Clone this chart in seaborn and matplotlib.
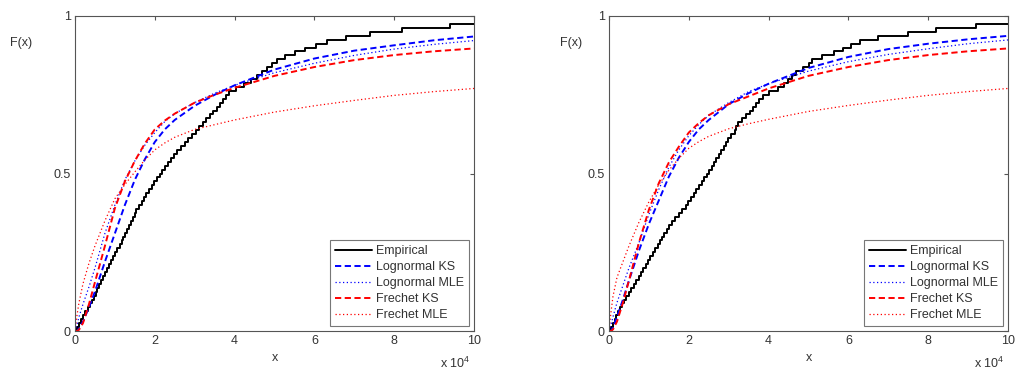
import numpy as np
import matplotlib
matplotlib.use("Agg")
import matplotlib.pyplot as plt
import seaborn as sns

# x in units of 10^4
x_grid = [0, 0.05, 0.1, 0.2, 0.35, 0.5, 0.75, 1, 1.25, 1.5, 1.75, 2, 2.25, 2.5, 3, 3.5, 4,
          5, 6, 7, 8, 9, 10]

# left panel
emp_left = [0.05, 0.11, 0.16, 0.21, 0.26, 0.32, 0.37, 0.42, 0.47, 0.52,
            0.56, 0.61, 0.65, 0.70, 0.75, 0.80, 0.86, 0.91, 0.96, 1.01,
            1.06, 1.12, 1.17, 1.21, 1.26, 1.31, 1.35, 1.40, 1.45, 1.50,
            1.54, 1.61, 1.67, 1.73, 1.79, 1.86, 1.92, 1.98, 2.05, 2.12,
            2.19, 2.26, 2.34, 2.41, 2.48, 2.55, 2.65, 2.75, 2.84, 2.94,
            3.03, 3.12, 3.21, 3.29, 3.38, 3.47, 3.55, 3.63, 3.71, 3.79,
            3.86, 4.04, 4.23, 4.42, 4.55, 4.68, 4.81, 4.94, 5.07, 5.27,
            5.52, 5.77, 6.04, 6.31, 6.78, 7.40, 8.20, 9.40, 11.5, 14.0]
logn_ks_left = [0, 0.0, 0.008, 0.03, 0.075, 0.125, 0.22, 0.31, 0.40, 0.48, 0.545, 0.60,
                0.64, 0.67, 0.715, 0.75, 0.78, 0.83, 0.865, 0.89, 0.907, 0.923, 0.935]
logn_mle_left = [0, 0.02, 0.045, 0.085, 0.14, 0.20, 0.31, 0.40, 0.48, 0.54, 0.59, 0.63,
                 0.665, 0.69, 0.725, 0.755, 0.78, 0.82, 0.85, 0.875, 0.895, 0.91, 0.922]
frec_ks_left = [0, 0.0, 0.004, 0.025, 0.085, 0.155, 0.27, 0.39, 0.475, 0.54, 0.595, 0.64,
                0.668, 0.69, 0.725, 0.75, 0.772, 0.81, 0.838, 0.86, 0.876, 0.888, 0.897]
frec_mle_left = [0, 0.05, 0.09, 0.15, 0.215, 0.27, 0.35, 0.42, 0.465, 0.505, 0.543, 0.575,
                 0.597, 0.615, 0.64, 0.655, 0.67, 0.695, 0.715, 0.732, 0.748, 0.76, 0.77]

# right panel
emp_right = [0.05, 0.09, 0.14, 0.18, 0.23, 0.28, 0.32, 0.37, 0.43, 0.50,
             0.56, 0.62, 0.68, 0.74, 0.80, 0.86, 0.92, 0.98, 1.04, 1.10,
             1.16, 1.22, 1.28, 1.34, 1.39, 1.45, 1.51, 1.58, 1.66, 1.75,
             1.83, 1.92, 1.99, 2.06, 2.13, 2.19, 2.26, 2.33, 2.39, 2.45,
             2.51, 2.57, 2.63, 2.69, 2.75, 2.81, 2.87, 2.93, 2.99, 3.05,
             3.17, 3.18, 3.23, 3.33, 3.43, 3.53, 3.61, 3.69, 3.77, 3.85,
             4.02, 4.23, 4.38, 4.48, 4.58, 4.69, 4.85, 5.02, 5.10, 5.35,
             5.65, 5.87, 6.07, 6.30, 6.75, 7.50, 8.20, 9.20, 11.0, 13.5]
logn_ks_right = [0, 0.0, 0.012, 0.045, 0.10, 0.16, 0.255, 0.34, 0.415, 0.49, 0.55, 0.60,
                 0.64, 0.67, 0.72, 0.755, 0.785, 0.835, 0.87, 0.895, 0.912, 0.926, 0.937]
logn_mle_right = [0, 0.02, 0.045, 0.09, 0.145, 0.20, 0.28, 0.37, 0.45, 0.52, 0.575, 0.62,
                  0.655, 0.685, 0.725, 0.76, 0.785, 0.825, 0.855, 0.878, 0.896, 0.912, 0.924]
frec_ks_right = [0, 0.0, 0.005, 0.03, 0.09, 0.16, 0.28, 0.385, 0.47, 0.535, 0.585, 0.63,
                 0.66, 0.685, 0.72, 0.745, 0.77, 0.81, 0.838, 0.86, 0.876, 0.888, 0.897]
frec_mle_right = [0, 0.06, 0.11, 0.17, 0.22, 0.27, 0.345, 0.41, 0.465, 0.51, 0.548, 0.58,
                  0.601, 0.618, 0.642, 0.658, 0.672, 0.697, 0.716, 0.733, 0.748, 0.76, 0.77]

legend_labels = ["Empirical", "Lognormal KS", "Lognormal MLE", "Frechet KS", "Frechet MLE"]

sns.set_style("white")
plt.rcParams["font.family"] = ["Liberation Sans", "DejaVu Sans"]
plt.rcParams["mathtext.default"] = "regular"

TXT = "#333333"
AX = "#555555"
FS = 9
DASH = (0, (3.2, 1.8))
DOT = (0, (1.0, 2.0))

fig = plt.figure(figsize=(10.16, 3.72), dpi=100)
W, H = 1016, 372


def draw_panel(ax, emp, lks, lmle, fks, fmle):
    sns.ecdfplot(x=emp, ax=ax, color="black", lw=1.4)
    sns.lineplot(x=x_grid, y=lks, ax=ax, color="#0000ff", lw=1.4, linestyle=DASH)
    sns.lineplot(x=x_grid, y=lmle, ax=ax, color="#0000ff", lw=0.9, linestyle=DOT)
    sns.lineplot(x=x_grid, y=fks, ax=ax, color="#ff0000", lw=1.4, linestyle=DASH)
    sns.lineplot(x=x_grid, y=fmle, ax=ax, color="#ff0000", lw=0.9, linestyle=DOT)

    ax.set_xlim(0, 10)
    ax.set_ylim(0, 1)
    ax.set_xticks([0, 2, 4, 6, 8, 10])
    ax.set_yticks([0, 0.5, 1])
    ax.set_yticklabels(["0", "0.5", "1"])
    ax.tick_params(direction="in", length=3, width=0.8, top=True, right=True,
                   color=AX, labelcolor=TXT, labelsize=FS, pad=3)
    for s in ax.spines.values():
        s.set_visible(True)
        s.set_color(AX)
        s.set_linewidth(0.8)
    ax.set_ylabel("")
    ax.set_xlabel("x", fontsize=FS, color=TXT)
    ax.xaxis.set_label_coords(0.5, -27 / 315)
    ax.xaxis.label.set_va("center")
    ax.text(0.99, -32 / 315, r"x 10$^4$", transform=ax.transAxes, ha="right",
            va="center", fontsize=FS, color=TXT)

    leg = ax.legend(ax.get_lines()[:5], legend_labels, loc="lower right", fontsize=FS,
                    frameon=True, fancybox=False, handlelength=3.0, handletextpad=0.3,
                    labelspacing=0.32, borderpad=0.4, borderaxespad=0.4)
    leg.get_frame().set_edgecolor(AX)
    leg.get_frame().set_linewidth(0.8)
    for t in leg.get_texts():
        t.set_color(TXT)


ax1 = fig.add_axes([75 / W, 41 / H, 399 / W, 315 / H])
draw_panel(ax1, emp_left, logn_ks_left, logn_mle_left, frec_ks_left, frec_mle_left)
ax2 = fig.add_axes([609 / W, 41 / H, 399 / W, 315 / H])
draw_panel(ax2, emp_right, logn_ks_right, logn_mle_right, frec_ks_right, frec_mle_right)

fig.text(21 / W, 1 - 43 / H, "F(x)", ha="center", va="center", fontsize=FS, color=TXT)
fig.text(571 / W, 1 - 43 / H, "F(x)", ha="center", va="center", fontsize=FS, color=TXT)

fig.savefig("out.png", dpi=100)
